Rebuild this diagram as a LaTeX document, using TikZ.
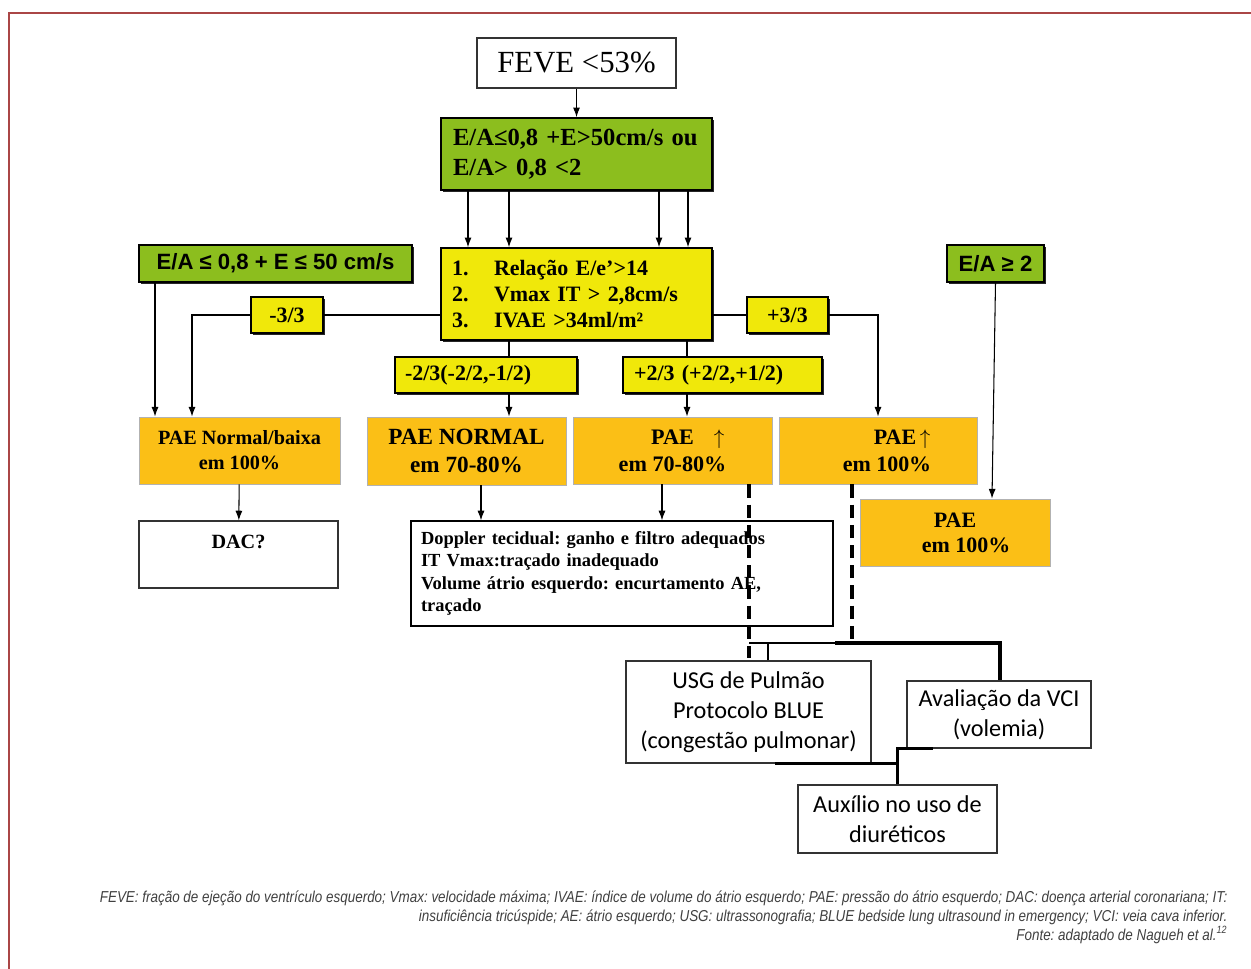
\documentclass[tikz,border=0pt]{standalone}
\usepackage{fontspec}
\setmainfont{Liberation Serif}
\newfontfamily\sansfont{Liberation Sans}
\newfontfamily\calfont{Carlito}
\newfontfamily\notefont[FakeStretch=0.85]{Liberation Sans}
\usetikzlibrary{shadows,arrows.meta}
\frenchspacing

\definecolor{grn}{RGB}{140,190,30}
\definecolor{ylw}{RGB}{240,232,10}
\definecolor{org}{RGB}{251,191,22}
\definecolor{frm}{RGB}{170,70,70}

\tikzset{
  shad/.style={drop shadow={shadow xshift=1.3pt,shadow yshift=-1.3pt,fill=black!85,opacity=1}},
  grnbox/.style={draw=black, line width=0.9pt, fill=grn, inner sep=0pt, shad},
  ylwbox/.style={draw=black, line width=0.9pt, fill=ylw, inner sep=0pt, shad,
    font=\bfseries\fontsize{12.5}{14.7}\selectfont},
  orgbox/.style={draw=black!30, line width=0.5pt, fill=org, inner sep=0pt, align=center,
    minimum height=1.34cm},
  whtbox/.style={draw=black!80, line width=0.7pt, fill=white, inner sep=0pt},
  calbox/.style={whtbox, align=center, font=\calfont\fontsize{13.8}{17}\selectfont},
  fat/.style={line width=1.8pt},
  dsh/.style={line width=1.9pt, dash pattern=on 7.5pt off 4pt},
}

\begin{document}
\begin{tikzpicture}[x=0.02cm, y=-0.02cm, >={Latex[length=5.5pt,width=4pt]}, line width=0.6pt]
  \useasboundingbox (0,0) rectangle (1251,969);
  \draw[frm, line width=0.8pt] (9,969) -- (9,13) -- (1251,13);

  \node(feve) at (576.5,63)[whtbox, minimum width=3.98cm, minimum height=1cm,
    font=\fontsize{17.5}{20}\selectfont]{FEVE <53\%};
  \node(gA) at (576.5,154)[grnbox, minimum width=5.42cm, minimum height=1.44cm,
    text width=4.94cm, align=left, font=\bfseries\fontsize{14}{17}\selectfont]
    {E/A≤0,8 +E>50cm/s ou\\E/A> 0,8 <2};
  \node(yM) at (576.5,294)[ylwbox, minimum width=5.42cm, minimum height=1.84cm,
    text width=4.98cm, align=left]
    {\makebox[0.84cm][l]{1.}Relação E/e’>14\\
     \makebox[0.84cm][l]{2.}Vmax IT > 2,8cm/s\\
     \makebox[0.84cm][l]{3.}IVAE >34ml/m²};
  \node(gL) at (275.5,263.5)[grnbox, minimum width=5.46cm, minimum height=0.74cm,
    font=\sansfont\bfseries\fontsize{12.6}{14}\selectfont]{E/A ≤ 0,8 + E ≤ 50 cm/s};
  \node(gR) at (995.5,263.5)[grnbox, minimum width=1.94cm, minimum height=0.74cm,
    font=\sansfont\bfseries\fontsize{12.6}{14}\selectfont]{E/A ≥ 2};

  \node(m33) at (287,315)[ylwbox, minimum width=1.44cm, minimum height=0.72cm]{-3/3};
  \node(p33) at (787.5,315)[ylwbox, minimum width=1.62cm, minimum height=0.72cm]{+3/3};
  \node(m23) at (486,375)[ylwbox, minimum width=3.64cm, minimum height=0.72cm,
    text width=3.24cm, align=left]{-2/3(-2/2,-1/2)};
  \node(p23) at (722.5,375)[ylwbox, minimum width=3.98cm, minimum height=0.72cm,
    text width=3.54cm, align=left]{+2/3 (+2/2,+1/2)};

  \node(oA) at (239.5,450.5)[orgbox, minimum width=4.02cm,
    font=\bfseries\fontsize{11.5}{14.2}\selectfont]{PAE Normal/baixa\\em 100\%};
  \node(oB) at (466.5,451)[orgbox, minimum width=3.98cm, minimum height=1.36cm,
    font=\bfseries\fontsize{13.2}{16.4}\selectfont]{PAE NORMAL\\em 70-80\%};
  \node(oC) at (672.5,450.5)[orgbox, minimum width=3.98cm,
    font=\bfseries\fontsize{12.6}{15.3}\selectfont]
    {PAE\rlap{\hspace{0.4cm}$\uparrow$}\\em 70-80\%};
  \node(oD) at (878,450.5)[orgbox, minimum width=3.96cm,
    font=\bfseries\fontsize{12.5}{15.3}\selectfont]
    {\hspace*{0.68cm}PAE\rlap{\,$\uparrow$}\\\hspace*{0.36cm}em 100\%};
  \node(oE) at (955,532.5)[orgbox, minimum width=3.8cm,
    font=\bfseries\fontsize{12.5}{14.2}\selectfont]{PAE\\\hspace*{0.44cm}em 100\%};

  \node(dac) at (238.5,554.5)[whtbox, minimum width=3.98cm, minimum height=1.34cm,
    align=center, font=\bfseries\fontsize{11.5}{14.2}\selectfont]{DAC?\\\mbox{}};
  \node(dop) at (622,573.5)[whtbox, draw=black, minimum width=8.44cm, minimum height=2.1cm,
    text width=8.04cm, align=left, font=\bfseries\fontsize{10.5}{12.8}\selectfont]
    {Doppler tecidual: ganho e filtro adequados\\
     IT Vmax:traçado inadequado\\
     \makebox[8.04cm][s]{Volume átrio esquerdo: encurtamento AE,}\\
     traçado};

  \node(usg) at (748.5,712)[calbox, minimum width=4.9cm, minimum height=2.04cm]
    {USG de Pulmão\\Protocolo BLUE\\(congestão pulmonar)};
  \node(vci) at (999,714.5)[calbox, minimum width=3.68cm, minimum height=1.34cm]
    {Avaliação da VCI\\(volemia)};
  \node(aux) at (897.5,819)[calbox, minimum width=3.98cm, minimum height=1.36cm]
    {Auxílio no uso de\\diuréticos};

  \draw[->] (feve) -- (gA);
  \foreach \xx in {468,509,659,688}
    \draw[->] (gA.south -| \xx,0) -- (yM.north -| \xx,0);
  \draw[->] (gL.south -| 155,0) -- (oA.north -| 155,0);
  \draw (yM.west |- m33.east) -- (m33.east);
  \draw[->] (m33.west) -| (oA.north -| 192,0);
  \draw (yM.east |- p33.west) -- (p33.west);
  \draw[->] (p33.east) -| (oD.north -| 878,0);
  \draw (yM.south -| 509,0) -- (m23.north -| 509,0);
  \draw[->] (m23.south -| 509,0) -- (oB.north -| 509,0);
  \draw (yM.south -| 687,0) -- (p23.north -| 687,0);
  \draw[->] (p23.south -| 687,0) -- (oC.north -| 687,0);
  \draw[->] (gR.south) -- (oE.north -| 992,0);
  \draw[->] (oA) -- (dac);
  \draw[->] (oB.south -| 481,0) -- (dop.north -| 481,0);
  \draw[->] (oC.south -| 662,0) -- (dop.north -| 662,0);

  \coordinate(j1) at (749,643);
  \coordinate(j2) at (852,643);
  \draw[dsh] (oC.south -| 749,0) -- (749,658);
  \draw[dsh] (oD.south -| 852,0) -- (j2);
  \draw (j1) -- (j2);
  \draw (usg.north -| 768,0) -- (j1 -| 768,0);
  \draw[fat] (835,643) -| (vci.north -| 1000,0);
  \draw[fat] (usg.south -| 775,0) -- (usg.south -| aux.north);
  \draw[fat] (aux.north) -- (vci.south -| aux.north) -- (vci.south -| 933,0);

  \node(note) at (1228,890)[anchor=north east, inner sep=0pt, align=right, text=black!75,
    font=\notefont\itshape\fontsize{9}{10.8}\selectfont]
    {FEVE: fração de ejeção do ventrículo esquerdo; Vmax: velocidade máxima; IVAE: índice de volume do átrio esquerdo; PAE: pressão do átrio esquerdo; DAC: doença arterial coronariana; IT:\\
     insuficiência tricúspide; AE: átrio esquerdo; USG: ultrassonografia; BLUE bedside lung ultrasound in emergency; VCI: veia cava inferior.\\
     Fonte: adaptado de Nagueh et al.\textsuperscript{12}};
\end{tikzpicture}
\end{document}
